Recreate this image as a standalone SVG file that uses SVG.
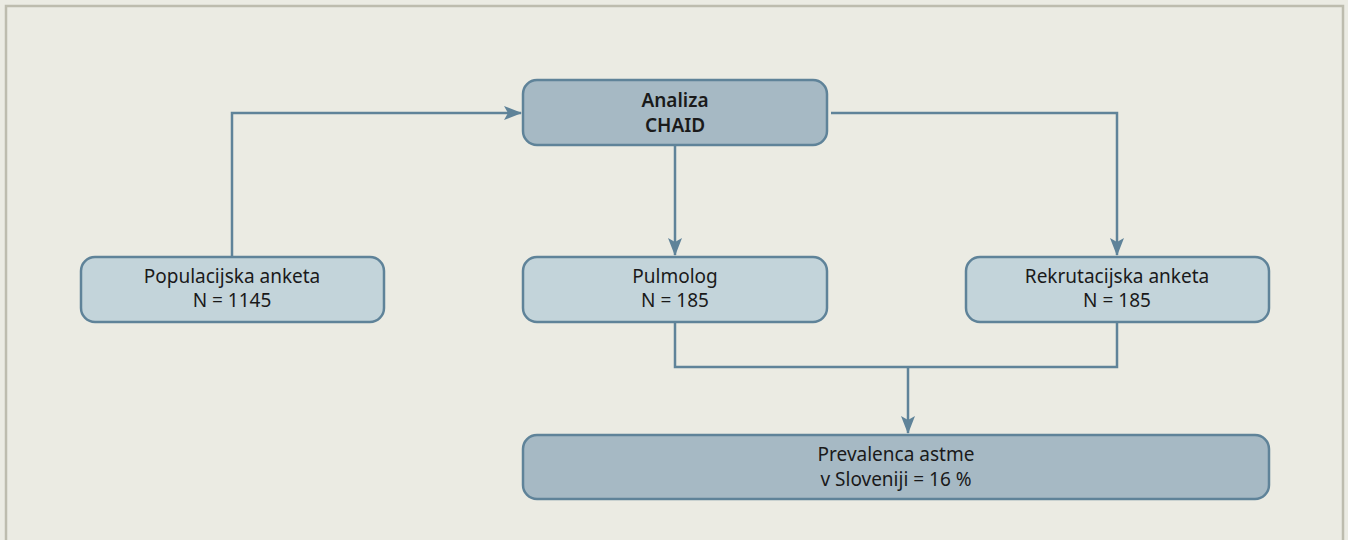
<svg xmlns="http://www.w3.org/2000/svg" width="1348" height="540" viewBox="0 0 1348 540">
<style>
.bg{fill:#ebebe3}
.frame{fill:none;stroke:#bdbcae;stroke-width:2.5}
.n rect{stroke:#5f8399;stroke-width:2.5}
.light{fill:#c3d4da}
.dark{fill:#a6b9c4}
text{font-family:"Noto Sans","Open Sans",sans-serif;font-size:19px;fill:#1a1a1a;text-anchor:middle}
.b{font-weight:600}
.c{fill:none;stroke:#5f8399;stroke-width:2.5}
</style>
<defs>
<marker id="ah" viewBox="0 0 18 14" refX="17" refY="7" markerWidth="18" markerHeight="14" markerUnits="userSpaceOnUse" orient="auto">
<path d="M0,0 L18,7 L0,14 L4,7 Z" fill="#5f8399"/>
</marker>
</defs>
<rect class="bg" x="0" y="0" width="1348" height="540"/>
<path class="frame" d="M6,545 V6 H1343 V545"/>
<g id="connectors">
<path class="c" d="M232,257 V113 H521" marker-end="url(#ah)"/>
<path class="c" d="M831,113 H1117 V255" marker-end="url(#ah)"/>
<path class="c" d="M675,145 V255" marker-end="url(#ah)"/>
<path class="c" d="M675,322 V367 H1117 V322"/>
<path class="c" d="M908,367 V433" marker-end="url(#ah)"/>
</g>
<g id="chaid" class="n">
<rect class="dark" x="523" y="80" width="304" height="65" rx="14"/>
<text class="b" x="675" y="107">Analiza</text>
<text class="b" x="675" y="132">CHAID</text>
</g>
<g id="populacijska" class="n">
<rect class="light" x="81" y="257" width="303" height="65" rx="14"/>
<text x="232" y="283">Populacijska anketa</text>
<text x="232" y="307">N = 1145</text>
</g>
<g id="pulmolog" class="n">
<rect class="light" x="523" y="257" width="304" height="65" rx="14"/>
<text x="675" y="283">Pulmolog</text>
<text x="675" y="307">N = 185</text>
</g>
<g id="rekrutacijska" class="n">
<rect class="light" x="966" y="257" width="303" height="65" rx="14"/>
<text x="1117" y="283">Rekrutacijska anketa</text>
<text x="1117" y="307">N = 185</text>
</g>
<g id="prevalenca" class="n">
<rect class="dark" x="523" y="435" width="746" height="64" rx="14"/>
<text x="896" y="461">Prevalenca astme</text>
<text x="896" y="486">v Sloveniji = 16 %</text>
</g>
</svg>
